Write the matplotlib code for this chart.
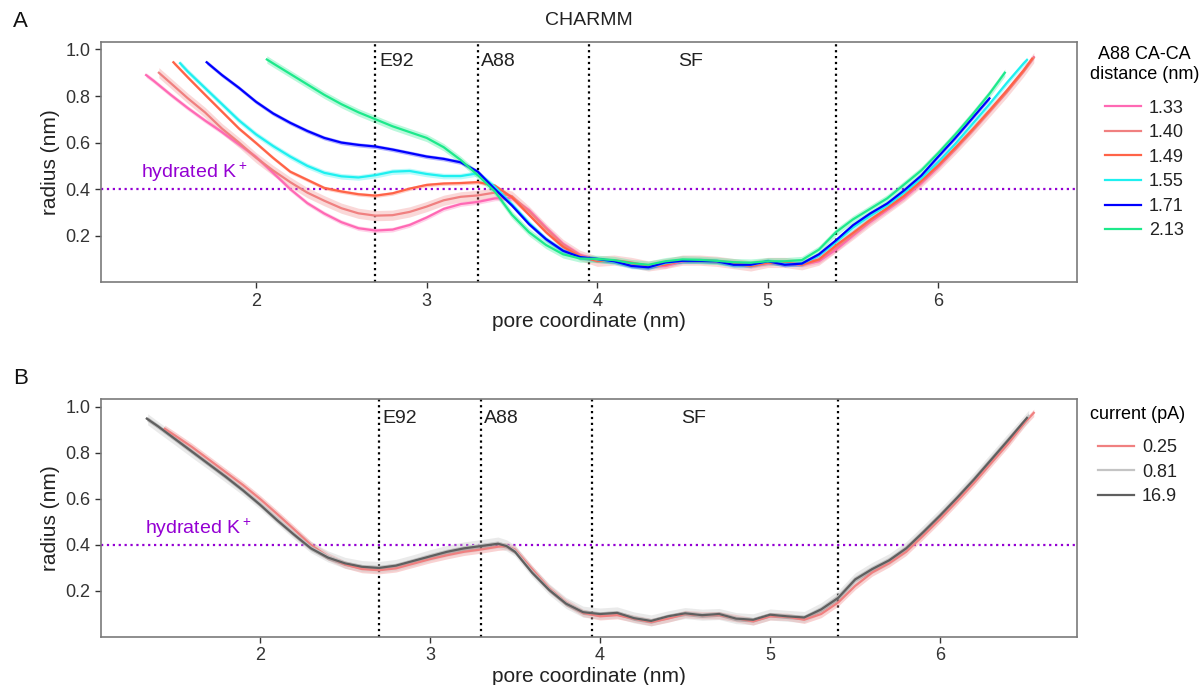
import numpy as np
import matplotlib
matplotlib.use("Agg")
import matplotlib.pyplot as plt

plt.rcParams['font.family'] = ['Liberation Sans', 'DejaVu Sans']
plt.rcParams['mathtext.fontset'] = 'custom'
plt.rcParams['mathtext.rm'] = 'Liberation Sans'
plt.rcParams['mathtext.default'] = 'regular'

# ---- top panel: radius profiles grouped by A88 CA-CA distance (nm) ----
x_133 = [1.355, 1.4, 1.5, 1.6, 1.7, 1.8, 1.9, 2.0, 2.1, 2.2, 2.3, 2.4, 2.5, 2.6, 2.7, 2.8, 2.9, 3.0, 3.1, 3.2,
         3.3, 3.4, 3.5, 3.6, 3.7, 3.8, 3.9, 4.0, 4.1, 4.2, 4.3, 4.4, 4.5, 4.6, 4.7, 4.8, 4.9, 5.0, 5.1, 5.2,
         5.3, 5.4, 5.5, 5.6, 5.7, 5.8, 5.9, 6.0, 6.1, 6.2, 6.3, 6.4, 6.5, 6.56]
r_133 = [0.89, 0.865, 0.805, 0.748, 0.695, 0.645, 0.592, 0.538, 0.47, 0.40, 0.34, 0.295, 0.258, 0.232, 0.222, 0.226, 0.246, 0.278, 0.315, 0.336,
         0.345, 0.36, 0.362, 0.31, 0.235, 0.165, 0.118, 0.095, 0.09, 0.08, 0.07, 0.07, 0.09, 0.095, 0.09, 0.085, 0.07, 0.08, 0.085, 0.075,
         0.09, 0.14, 0.2, 0.258, 0.31, 0.362, 0.425, 0.495, 0.572, 0.652, 0.735, 0.82, 0.91, 0.967]

x_140 = [1.43, 1.5, 1.6, 1.7, 1.8, 1.9, 2.0, 2.1, 2.2, 2.3, 2.4, 2.5, 2.6, 2.7, 2.8, 2.9, 3.0, 3.1, 3.2,
         3.3, 3.4, 3.5, 3.6, 3.7, 3.8, 3.9, 4.0, 4.1, 4.2, 4.3, 4.4, 4.5, 4.6, 4.7, 4.8, 4.9, 5.0, 5.1, 5.2,
         5.3, 5.4, 5.5, 5.6, 5.7, 5.8, 5.9, 6.0, 6.1, 6.2, 6.3, 6.4, 6.5, 6.56]
r_140 = [0.90, 0.855, 0.79, 0.73, 0.66, 0.60, 0.535, 0.48, 0.43, 0.385, 0.35, 0.318, 0.296, 0.286, 0.288, 0.302, 0.325, 0.352, 0.367,
         0.373, 0.385, 0.37, 0.305, 0.23, 0.162, 0.115, 0.09, 0.095, 0.085, 0.07, 0.08, 0.095, 0.095, 0.09, 0.08, 0.07, 0.085, 0.085, 0.075,
         0.095, 0.15, 0.205, 0.262, 0.315, 0.368, 0.43, 0.498, 0.572, 0.65, 0.732, 0.815, 0.905, 0.965]

x_149 = [1.515, 1.6, 1.7, 1.8, 1.9, 2.0, 2.1, 2.2, 2.3, 2.4, 2.5, 2.6, 2.7, 2.8, 2.9, 3.0, 3.1, 3.2,
         3.3, 3.4, 3.5, 3.6, 3.7, 3.8, 3.9, 4.0, 4.1, 4.2, 4.3, 4.4, 4.5, 4.6, 4.7, 4.8, 4.9, 5.0, 5.1, 5.2,
         5.3, 5.4, 5.5, 5.6, 5.7, 5.8, 5.9, 6.0, 6.1, 6.2, 6.3, 6.4, 6.5, 6.55]
r_149 = [0.945, 0.88, 0.806, 0.733, 0.66, 0.598, 0.534, 0.475, 0.44, 0.405, 0.39, 0.378, 0.372, 0.382, 0.402, 0.418, 0.424, 0.426,
         0.43, 0.415, 0.365, 0.29, 0.215, 0.152, 0.11, 0.092, 0.092, 0.082, 0.068, 0.075, 0.093, 0.094, 0.09, 0.082, 0.07, 0.084, 0.084, 0.076,
         0.098, 0.158, 0.212, 0.268, 0.318, 0.372, 0.435, 0.503, 0.578, 0.656, 0.738, 0.822, 0.91, 0.96]

x_155 = [1.554, 1.6, 1.7, 1.8, 1.9, 2.0, 2.1, 2.2, 2.3, 2.4, 2.5, 2.6, 2.7, 2.8, 2.9, 3.0, 3.1, 3.2,
         3.3, 3.4, 3.5, 3.6, 3.7, 3.8, 3.9, 4.0, 4.1, 4.2, 4.3, 4.4, 4.5, 4.6, 4.7, 4.8, 4.9, 5.0, 5.1, 5.2,
         5.3, 5.4, 5.5, 5.6, 5.7, 5.8, 5.9, 6.0, 6.1, 6.2, 6.3, 6.4, 6.5, 6.52]
r_155 = [0.941, 0.905, 0.835, 0.765, 0.695, 0.635, 0.585, 0.54, 0.50, 0.47, 0.455, 0.45, 0.46, 0.475, 0.478, 0.465, 0.456, 0.456,
         0.468, 0.41, 0.335, 0.255, 0.185, 0.135, 0.108, 0.098, 0.088, 0.07, 0.064, 0.082, 0.092, 0.092, 0.09, 0.074, 0.074, 0.09, 0.078, 0.08,
         0.115, 0.172, 0.235, 0.285, 0.33, 0.385, 0.447, 0.517, 0.595, 0.68, 0.765, 0.855, 0.94, 0.955]

x_171 = [1.71, 1.8, 1.9, 2.0, 2.1, 2.2, 2.3, 2.4, 2.5, 2.6, 2.7, 2.8, 2.9, 3.0, 3.1, 3.2,
         3.3, 3.4, 3.5, 3.6, 3.7, 3.8, 3.9, 4.0, 4.1, 4.2, 4.3, 4.4, 4.5, 4.6, 4.7, 4.8, 4.9, 5.0, 5.1, 5.2,
         5.3, 5.4, 5.5, 5.6, 5.7, 5.8, 5.9, 6.0, 6.1, 6.2, 6.3]
r_171 = [0.945, 0.89, 0.835, 0.775, 0.725, 0.685, 0.65, 0.62, 0.60, 0.59, 0.583, 0.57, 0.555, 0.54, 0.53, 0.515,
         0.475, 0.40, 0.33, 0.25, 0.185, 0.135, 0.108, 0.10, 0.09, 0.07, 0.064, 0.085, 0.092, 0.092, 0.09, 0.075, 0.075, 0.09, 0.075, 0.08,
         0.12, 0.18, 0.245, 0.295, 0.338, 0.395, 0.458, 0.54, 0.62, 0.705, 0.79]

x_213 = [2.063, 2.1, 2.2, 2.3, 2.4, 2.5, 2.6, 2.7, 2.8, 2.9, 3.0, 3.1, 3.2,
         3.3, 3.4, 3.5, 3.6, 3.7, 3.8, 3.9, 4.0, 4.1, 4.2, 4.3, 4.4, 4.5, 4.6, 4.7, 4.8, 4.9, 5.0, 5.1, 5.2,
         5.3, 5.4, 5.5, 5.6, 5.7, 5.8, 5.9, 6.0, 6.1, 6.2, 6.3, 6.39]
r_213 = [0.957, 0.94, 0.895, 0.85, 0.805, 0.765, 0.73, 0.70, 0.67, 0.645, 0.62, 0.58, 0.525,
         0.46, 0.39, 0.29, 0.215, 0.16, 0.12, 0.102, 0.10, 0.095, 0.082, 0.075, 0.09, 0.098, 0.096, 0.092, 0.086, 0.084, 0.09, 0.09, 0.095,
         0.14, 0.215, 0.27, 0.315, 0.36, 0.42, 0.48, 0.555, 0.635, 0.72, 0.81, 0.9]

dist_labels = ['1.33', '1.40', '1.49', '1.55', '1.71', '2.13']
dist_colors = ['#ff69b4', '#f08080', '#ff6347', '#1ef0f0', '#0000ff', '#1de98b']
dist_err = [0.01, 0.022, 0.008, 0.012, 0.009, 0.016]

# ---- bottom panel: radius profiles grouped by current (pA) ----
x_025 = [1.44, 1.5, 1.6, 1.7, 1.8, 1.9, 2.0, 2.1, 2.2, 2.3, 2.4, 2.5, 2.6, 2.7, 2.8, 2.9, 3.0, 3.1, 3.2,
         3.3, 3.4, 3.45, 3.5, 3.6, 3.7, 3.8, 3.9, 4.0, 4.1, 4.2, 4.3, 4.4, 4.5, 4.6, 4.7, 4.8, 4.9, 5.0, 5.1, 5.2,
         5.3, 5.4, 5.5, 5.6, 5.7, 5.8, 5.9, 6.0, 6.1, 6.2, 6.3, 6.4, 6.5, 6.55]
r_025 = [0.904, 0.875, 0.825, 0.77, 0.715, 0.66, 0.60, 0.535, 0.468, 0.40, 0.35, 0.315, 0.295, 0.29, 0.298, 0.318, 0.338, 0.355, 0.37,
         0.38, 0.392, 0.395, 0.38, 0.295, 0.212, 0.15, 0.105, 0.09, 0.095, 0.08, 0.065, 0.08, 0.10, 0.095, 0.095, 0.082, 0.068, 0.09, 0.088, 0.075,
         0.10, 0.15, 0.222, 0.28, 0.32, 0.37, 0.44, 0.513, 0.59, 0.67, 0.755, 0.84, 0.933, 0.973]

x_081 = [1.34, 1.4, 1.5, 1.6, 1.7, 1.8, 1.9, 2.0, 2.1, 2.2, 2.3, 2.4, 2.5, 2.6, 2.7, 2.8, 2.9, 3.0, 3.1, 3.2,
         3.3, 3.4, 3.45, 3.5, 3.6, 3.7, 3.8, 3.9, 4.0, 4.1, 4.2, 4.3, 4.4, 4.5, 4.6, 4.7, 4.8, 4.9, 5.0, 5.1, 5.2,
         5.3, 5.4, 5.5, 5.6, 5.7, 5.8, 5.9, 6.0, 6.1, 6.2, 6.3, 6.4, 6.52]
r_081 = [0.945, 0.912, 0.858, 0.803, 0.75, 0.695, 0.64, 0.58, 0.515, 0.45, 0.39, 0.35, 0.322, 0.308, 0.304, 0.313, 0.333, 0.355, 0.374, 0.389,
         0.399, 0.41, 0.398, 0.375, 0.285, 0.208, 0.148, 0.11, 0.102, 0.107, 0.085, 0.072, 0.09, 0.104, 0.097, 0.1, 0.082, 0.077, 0.098, 0.092, 0.087,
         0.125, 0.177, 0.255, 0.3, 0.338, 0.39, 0.46, 0.533, 0.61, 0.69, 0.775, 0.86, 0.96]

x_169 = [1.335, 1.4, 1.5, 1.6, 1.7, 1.8, 1.9, 2.0, 2.1, 2.2, 2.3, 2.4, 2.5, 2.6, 2.7, 2.8, 2.9, 3.0, 3.1, 3.2,
         3.3, 3.4, 3.45, 3.5, 3.6, 3.7, 3.8, 3.9, 4.0, 4.1, 4.2, 4.3, 4.4, 4.5, 4.6, 4.7, 4.8, 4.9, 5.0, 5.1, 5.2,
         5.3, 5.4, 5.5, 5.6, 5.7, 5.8, 5.9, 6.0, 6.1, 6.2, 6.3, 6.4, 6.51]
r_169 = [0.948, 0.915, 0.86, 0.805, 0.75, 0.695, 0.637, 0.575, 0.508, 0.445, 0.385, 0.345, 0.32, 0.305, 0.30, 0.31, 0.33, 0.35, 0.37, 0.385,
         0.395, 0.405, 0.395, 0.37, 0.28, 0.205, 0.145, 0.108, 0.10, 0.105, 0.082, 0.07, 0.09, 0.103, 0.095, 0.10, 0.08, 0.075, 0.097, 0.09, 0.085,
         0.12, 0.17, 0.25, 0.295, 0.333, 0.385, 0.455, 0.528, 0.605, 0.685, 0.77, 0.855, 0.951]

cur_labels = ['0.25', '0.81', '16.9']
cur_colors = ['#f08080', '#c4c4c4', '#5f5f5f']
cur_err = [0.016, 0.024, 0.01]

# residue markers along the pore (nm)
marks = [2.70, 3.30, 3.95, 5.40]
hydrated_k = 0.4

dist_x = [x_133, x_140, x_149, x_155, x_171, x_213]
dist_r = [r_133, r_140, r_149, r_155, r_171, r_213]
cur_x = [x_025, x_081, x_169]
cur_r = [r_025, r_081, r_169]


def decorate(ax, xlim, leg_title, leg_y):
    ax.set_xlim(*xlim)
    ax.set_ylim(0, 1.033)
    for m in marks:
        ax.axvline(m, color='black', ls=':', lw=1.6, zorder=1)
    ax.axhline(hydrated_k, color='#9400d3', ls=':', lw=1.6, zorder=1)
    ax.text(1.64, 0.47, 'hydrated K$^+$', color='#9400d3', fontsize=14, ha='center', va='center')
    ax.text(marks[0] + 0.02, 0.95, 'E92', fontsize=14, color='#222222', ha='left', va='center')
    ax.text(marks[1] + 0.02, 0.95, 'A88', fontsize=14, color='#222222', ha='left', va='center')
    ax.text(4.55, 0.95, 'SF', fontsize=14, color='#222222', ha='center', va='center')
    ax.set_xticks([2, 3, 4, 5, 6])
    ax.set_yticks([0.2, 0.4, 0.6, 0.8, 1.0])
    ax.set_xlabel('pore coordinate (nm)', fontsize=15, color='#222222', labelpad=2)
    ax.set_ylabel('radius (nm)', fontsize=15, color='#222222', labelpad=4)
    ax.tick_params(labelsize=13, colors='#333333', length=4, width=1, direction='out')
    for s in ax.spines.values():
        s.set_color('#7a7a7a')
        s.set_linewidth(1.2)
    leg = ax.legend(title=leg_title, loc='upper left', bbox_to_anchor=(0.996, leg_y), frameon=False,
                    fontsize=13, title_fontsize=13, handlelength=2.0, handletextpad=0.45,
                    labelspacing=0.42, borderaxespad=0.5)
    leg._legend_box.align = 'center'
    leg._legend_box.sep = 12
    leg.get_title().set_multialignment('center')
    for t in leg.get_texts():
        t.set_color('#222222')


fig = plt.figure(figsize=(12.01, 6.85), dpi=100)
ax1 = fig.add_axes([0.084, 0.588, 0.813, 0.351])
ax2 = fig.add_axes([0.084, 0.070, 0.813, 0.3475])

for xs, rs, c, e, lab in zip(dist_x, dist_r, dist_colors, dist_err, dist_labels):
    xs = np.array(xs)
    rs = np.array(rs)
    ax1.fill_between(xs, rs - e, rs + e, color=c, alpha=0.3, lw=0, zorder=2)
    ax1.plot(xs, rs, color=c, lw=1.6, label=lab, zorder=3)

for xs, rs, c, e, lab in zip(cur_x, cur_r, cur_colors, cur_err, cur_labels):
    xs = np.array(xs)
    rs = np.array(rs)
    ax2.fill_between(xs, rs - e, rs + e, color=c, alpha=0.35, lw=0, zorder=2)
    ax2.plot(xs, rs, color=c, lw=1.6, label=lab, zorder=3)

decorate(ax1, (1.09, 6.815), 'A88 CA-CA\ndistance (nm)', 1.049)
decorate(ax2, (1.065, 6.806), 'current (pA)', 1.041)

ax1.set_title('CHARMM', fontsize=14, color='#222222', pad=12)
fig.text(0.011, 0.968, 'A', fontsize=16, color='#111111', va='center')
fig.text(0.011, 0.448, 'B', fontsize=16, color='#111111', va='center')

fig.savefig('out.png', dpi=100)
